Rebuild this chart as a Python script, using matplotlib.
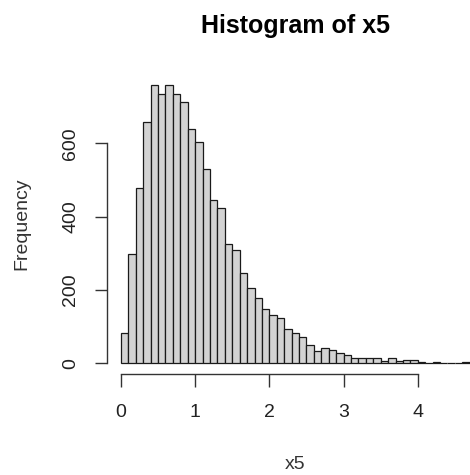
import numpy as np
import matplotlib
matplotlib.use("Agg")
import matplotlib.pyplot as plt

plt.rcParams['font.family'] = ['Liberation Sans', 'DejaVu Sans']

# histogram of x5, bins of width 0.1 starting at 0
bin_width = 0.1
counts = [83, 297, 479, 657, 760, 734, 760, 734, 713, 639,
          604, 531, 444, 423, 324, 309, 245, 205, 179, 149,
          132, 123, 93, 83, 71, 49, 34, 41, 35, 27,
          22, 14, 14, 14, 15, 6, 15, 6, 10, 10,
          4, 1, 4, 1, 1, 0, 4]
x_ticks = [0, 1, 2, 3, 4]
y_ticks = [0, 200, 400, 600]

edges = np.arange(len(counts)) * bin_width


def main():
    fig = plt.figure(figsize=(4.7, 4.75), dpi=100)
    W, H = 470, 475
    # plot region in pixels (R style, extends past right edge)
    left, right, top, bottom = 107, 483.7, 73.5, 374.4
    ax = fig.add_axes([left / W, (H - bottom) / H, (right - left) / W, (bottom - top) / H])

    ax.bar(edges, counts, width=bin_width, align='edge',
           color='#d3d3d3', edgecolor='#1a1a1a', linewidth=0.9)

    xmax = edges[-1] + bin_width
    ax.set_xlim(-0.04 * xmax, xmax * 1.04)
    ymax = max(counts)
    ax.set_ylim(-0.04 * ymax, ymax * 1.04)

    for s in ['top', 'right']:
        ax.spines[s].set_visible(False)
    ax.spines['left'].set_bounds(y_ticks[0], y_ticks[-1])
    ax.spines['bottom'].set_bounds(x_ticks[0], x_ticks[-1])
    for s in ['left', 'bottom']:
        ax.spines[s].set_color('#333333')
        ax.spines[s].set_linewidth(1.0)

    ax.set_xticks(x_ticks)
    ax.set_yticks(y_ticks)
    ax.tick_params(axis='both', length=9, width=1.0, color='#333333',
                   labelsize=14, labelcolor='#222222')
    ax.tick_params(axis='x', pad=12)
    ax.tick_params(axis='y', pad=11, labelrotation=90)
    for lab in ax.get_yticklabels():
        lab.set_va('center')

    ax.set_xlabel('x5', fontsize=14, color='#333333', va='center')
    ax.xaxis.set_label_coords(0.5, -0.301)
    ax.set_ylabel('Frequency', fontsize=14, color='#333333', va='center')
    ax.yaxis.set_label_coords(-0.2256, 0.5)

    ax.set_title('Histogram of x5', fontsize=18, fontweight='bold', pad=29)

    fig.savefig('out.png', dpi=100, facecolor='white')
    plt.close(fig)


if __name__ == "__main__":
    main()
